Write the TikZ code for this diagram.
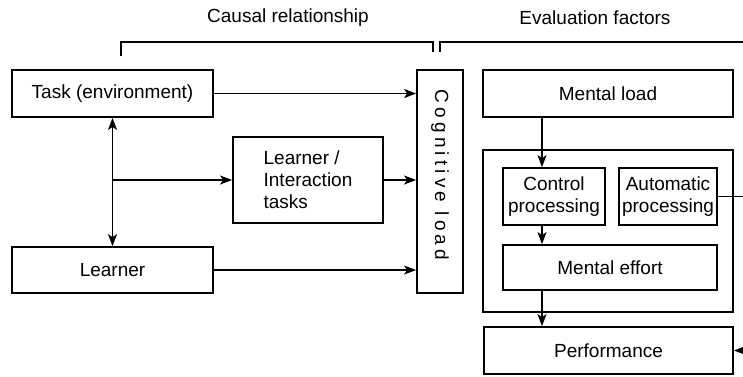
\documentclass[tikz,border=0pt]{standalone}
\usepackage{fontspec}
\setmainfont{Liberation Sans}
\usepackage{tikz}
\usetikzlibrary{arrows.meta}

\begin{document}
\begin{tikzpicture}[x=1pt,y=-1pt,>={Stealth[length=12pt,width=9pt,inset=3pt]},every node/.style={font=\fontsize{19}{22}\selectfont},box/.style={draw,line width=1.8pt,inner sep=0pt,align=center},link/.style={line width=1.1pt},bracket/.style={line width=1.8pt}]
	\useasboundingbox (0,0) rectangle (743,376);
	\node (causal) at (288,18) {Causal relationship};
	\node (evalf) at (595,18) {Evaluation factors};
	\draw[bracket] (121,56) |- (433,42) -- (433,52);
	\draw[bracket] (440,52) |- (743,42);
	\node[box,minimum width=201pt,minimum height=47pt] (task) at (112.5,93.5) {Task (environment)};
	\node[box,minimum width=201pt,minimum height=46pt] (learner) at (112.5,270) {Learner};
	\node[box,minimum width=150pt,minimum height=86pt,align=left] (inter) at (308,180) {Learner /\\Interaction\\tasks};
	\node[box,minimum width=46pt,minimum height=223pt] (cog) at (440,181.5) {};
	\node[rotate=-90] (coglabel) at (440,175) {\addfontfeatures{LetterSpace=22}Cognitive load};
	\node[box,minimum width=250pt,minimum height=47pt] (mental) at (608,93.5) {Mental load};
	\node[box,minimum width=250pt,minimum height=162pt] (procbox) at (608,231) {};
	\node[box,minimum width=102pt,minimum height=57pt] (control) at (554,196.5) {Control\\processing};
	\node[box,minimum width=98pt,minimum height=57pt] (auto) at (668,196.5) {Automatic\\processing};
	\node[box,minimum width=214pt,minimum height=45pt] (effort) at (610,267.5) {Mental effort};
	\node[box,minimum width=249pt,minimum height=47pt] (perf) at (608.5,350.5) {Performance};
	\coordinate (split) at (task.south |- inter.west);
	\coordinate (mlx) at (542,0);
	\coordinate (edge) at (743.4,0);
	\draw[link,->] (task.east) -- (task.east -| cog.west);
	\draw[link,->] (learner.east) -- (learner.east -| cog.west);
	\draw[link,->] (inter.east) -- (inter.east -| cog.west);
	\draw[link,<->] (task.south) -- (learner.north);
	\draw[link,->] (split) -- (inter.west);
	\draw[link,->] (mental.south -| mlx) -- (control.north -| mlx);
	\draw[link,->] (control.south -| mlx) -- (effort.north -| mlx);
	\draw[link,->] (effort.south -| mlx) -- (perf.north -| mlx);
	\draw[link,->] (auto.east) -| (edge |- perf.east) -- (perf.east);
\end{tikzpicture}
\end{document}
